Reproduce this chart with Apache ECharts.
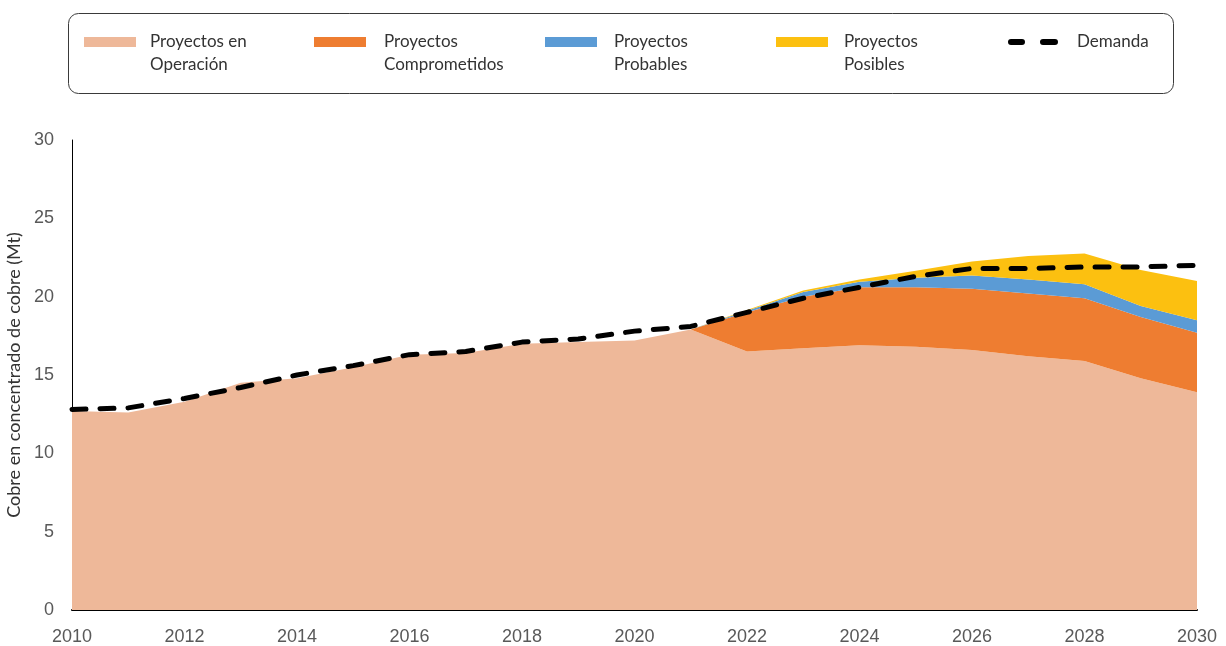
<!DOCTYPE html>
<html>
<head>
<meta charset="utf-8">
<script src="https://cdn.jsdelivr.net/npm/echarts@6/dist/echarts.min.js"></script>
<style>
  html, body { margin: 0; padding: 0; background: #fff; }
  #chart { width: 1226px; height: 646px; }
</style>
</head>
<body>
<div id="chart"></div>
<script>
// years on the x axis
const years = ['2010','2011','2012','2013','2014','2015','2016','2017','2018','2019','2020',
  '2021','2022','2023','2024','2025','2026','2027','2028','2029','2030'];

// supply layers (Mt), stacked
const operacion = [12.7, 12.6, 13.3, 14.5, 14.8, 15.5, 16.3, 16.4, 17.0, 17.1, 17.2,
  17.9, 16.5, 16.7, 16.9, 16.8, 16.6, 16.2, 15.9, 14.8, 13.9];
const comprometidos = [0, 0, 0, 0, 0, 0, 0, 0, 0, 0, 0,
  0, 2.5, 3.3, 3.7, 3.8, 3.9, 4.0, 4.0, 3.9, 3.8];
const probables = [0, 0, 0, 0, 0, 0, 0, 0, 0, 0, 0,
  0, 0.1, 0.3, 0.35, 0.6, 0.85, 0.9, 0.9, 0.7, 0.8];
const posibles = [0, 0, 0, 0, 0, 0, 0, 0, 0, 0, 0,
  0, 0.05, 0.1, 0.15, 0.45, 0.9, 1.5, 1.95, 2.3, 2.5];

// demand line
const demanda = [12.8, 12.9, 13.5, 14.2, 15.0, 15.6, 16.3, 16.5, 17.1, 17.3, 17.8,
  18.1, 19.0, 19.9, 20.6, 21.3, 21.8, 21.8, 21.9, 21.9, 22.0];

const yTicks = [0, 5, 10, 15, 20, 25, 30];

const legendFont = 'Lato';
const chart = echarts.init(document.getElementById('chart'));

function areaSeries(name, data, color) {
  return {
    name: name,
    type: 'line',
    stack: 'oferta',
    data: data,
    symbol: 'none',
    lineStyle: { width: 0 },
    areaStyle: { color: color, opacity: 1 },
    itemStyle: { color: color },
    emphasis: { disabled: true }
  };
}

function legendText(gap) {
  return {
    fontFamily: legendFont,
    fontSize: 17,
    color: '#333',
    lineHeight: 23,
    padding: [0, 0, 0, gap]
  };
}

// two-line names: an empty first line keeps the icon level with the first text line
function legendAt(name, left, gap) {
  return {
    data: [name],
    left: left,
    top: 42 - 34.5,
    padding: 0,
    itemWidth: 52,
    itemHeight: 10,
    icon: 'rect',
    formatter: n => '\n' + n,
    textStyle: legendText(gap),
    selectedMode: false
  };
}

const option = {
  animation: false,
  grid: { left: 72, right: 29, top: 140, bottom: 36, outerBoundsMode: 'none' },
  legend: [
    legendAt('Proyectos en\nOperación', 84, 9),
    legendAt('Proyectos\nComprometidos', 314, 13),
    legendAt('Proyectos\nProbables', 545, 12),
    legendAt('Proyectos\nPosibles', 776, 11),
    {
      data: ['Demanda'],
      left: 1008,
      top: 42 - 11.5,
      padding: 0,
      itemWidth: 50,
      itemHeight: 6,
      icon: 'path://M3,0h11a3,3 0 0 1 0,6h-11a3,3 0 0 1 0,-6z M35,0h12a3,3 0 0 1 0,6h-12a3,3 0 0 1 0,-6z',
      textStyle: legendText(14),
      selectedMode: false
    }
  ],
  graphic: [{
    type: 'rect',
    shape: { x: 68.5, y: 13.5, width: 1105, height: 80, r: 10 },
    style: { fill: 'none', stroke: '#3a3a3a', lineWidth: 1 },
    silent: true
  }],
  xAxis: {
    type: 'category',
    data: years,
    boundaryGap: false,
    axisLine: { lineStyle: { color: '#000', width: 2 } },
    axisTick: { show: false },
    axisLabel: {
      interval: 1,
      color: '#595959',
      fontFamily: 'Liberation Sans',
      fontSize: 18,
      margin: 18
    },
    splitLine: { show: false }
  },
  yAxis: {
    type: 'value',
    min: yTicks[0],
    max: yTicks[yTicks.length - 1],
    interval: 5,
    name: 'Cobre en concentrado de cobre (Mt)',
    nameLocation: 'middle',
    nameGap: 46,
    nameTextStyle: { fontFamily: legendFont, fontSize: 18, color: '#333' },
    axisLine: { show: true, lineStyle: { color: '#000', width: 1 } },
    axisTick: { show: false },
    axisLabel: {
      color: '#595959',
      fontFamily: 'Liberation Sans',
      fontSize: 18,
      margin: 18
    },
    splitLine: { show: false }
  },
  series: [
    areaSeries('Proyectos en\nOperación', operacion, '#EEB899'),
    areaSeries('Proyectos\nComprometidos', comprometidos, '#EE7D31'),
    areaSeries('Proyectos\nProbables', probables, '#5B9BD5'),
    areaSeries('Proyectos\nPosibles', posibles, '#FCC010'),
    {
      name: 'Demanda',
      type: 'line',
      data: demanda,
      symbol: 'none',
      z: 5,
      lineStyle: { color: '#000', width: 5, type: [14, 14], cap: 'round' },
      itemStyle: { color: '#000' },
      emphasis: { disabled: true }
    }
  ]
};

chart.setOption(option);
</script>
</body>
</html>
